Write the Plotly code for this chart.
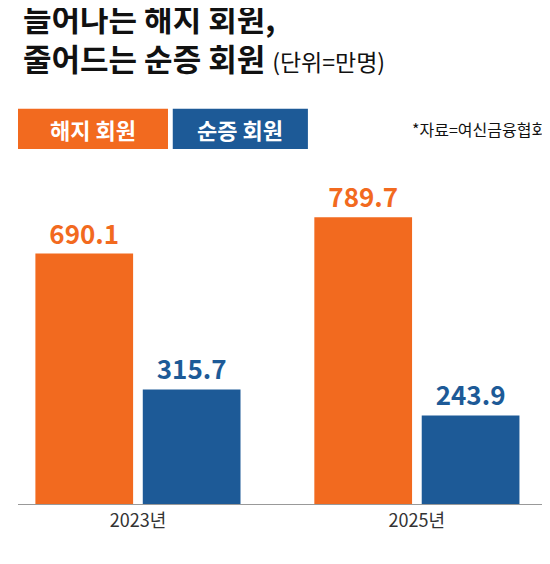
import plotly.graph_objects as go

years = ["2023년", "2025년"]
cancelled = [690.1, 789.7]
net_new = [315.7, 243.9]
series_names = ["해지 회원", "순증 회원"]

ORANGE = "#F26A1F"
BLUE = "#1D5A97"
FONT = "Noto Sans CJK KR"

fig = go.Figure()
for name, vals, col in [(series_names[0], cancelled, ORANGE), (series_names[1], net_new, BLUE)]:
    fig.add_trace(go.Bar(
        x=years, y=vals, name=name, marker_color=col, marker_line_width=0,
        text=[f"{v:.1f}" for v in vals], textposition="outside",
        textfont=dict(family=FONT, size=26, color=col, weight="bold"),
        cliponaxis=False,
    ))

fig.update_layout(
    width=550, height=564, margin=dict(l=10, r=10, t=153, b=68),
    paper_bgcolor="white", plot_bgcolor="white", showlegend=False,
    barmode="group", bargap=0.23, bargroupgap=0.09,
    font=dict(family=FONT),
    xaxis=dict(showline=True, linecolor="#999", linewidth=1, ticks="",
               range=[-0.43, 1.47], automargin=False,
               tickfont=dict(family=FONT, size=18, color="#333")),
    yaxis=dict(range=[0, 945], visible=False, showgrid=False, automargin=False),
)

fig.add_annotation(xref="paper", yref="paper", x=0.006, y=1.49, xanchor="left", yanchor="top",
                   align="left", showarrow=False,
                   text="<b>늘어나는 해지 회원,</b><br><b>줄어드는 순증 회원</b> <span style='font-size:23px'>(단위=만명)</span>",
                   font=dict(family=FONT, size=31, color="#111"))

for (x0, x1), col, name in [((0, 0.283), ORANGE, series_names[0]), ((0.292, 0.547), BLUE, series_names[1])]:
    fig.add_shape(type="rect", xref="paper", yref="paper", x0=x0, x1=x1, y0=1.035, y1=1.152,
                  fillcolor=col, line_width=0)
    fig.add_annotation(xref="paper", yref="paper", x=(x0 + x1) / 2, y=1.093,
                       xanchor="center", yanchor="middle", showarrow=False,
                       text=f"<b>{name}</b>", font=dict(family=FONT, size=22, color="white"))

fig.add_annotation(xref="paper", yref="paper", x=1.0, y=1.093, xanchor="right", yanchor="middle",
                   showarrow=False,
                   text="*자료=여신금융협회", font=dict(family=FONT, size=16, color="#111"))

fig.write_html("out.html")
